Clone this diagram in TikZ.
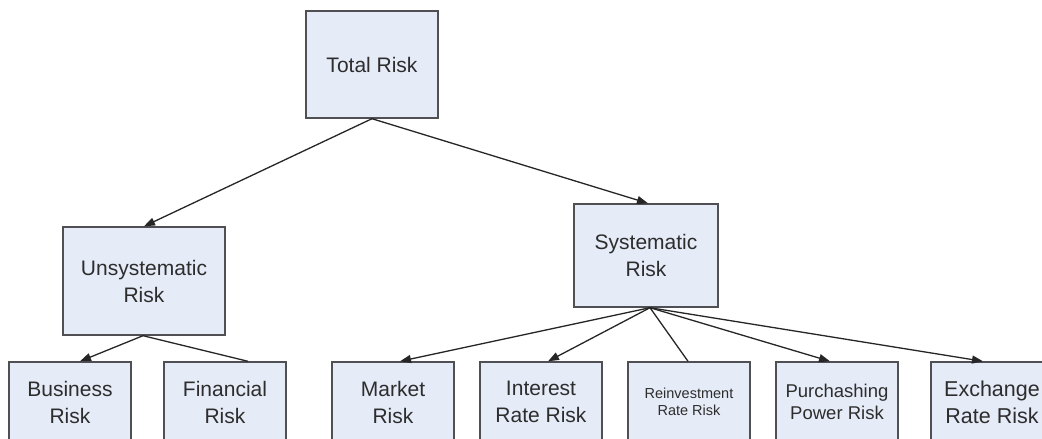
\documentclass[tikz,border=0pt]{standalone}
\usepackage{fontspec}
\setmainfont{Liberation Sans}
\usetikzlibrary{arrows.meta,calc}
\definecolor{boxfill}{RGB}{229,235,247}
\definecolor{boxline}{RGB}{80,80,84}
\definecolor{txt}{RGB}{45,45,45}
\tikzset{
  riskbox/.style={draw=boxline, line width=1.4pt, fill=boxfill, text=txt, align=center, inner sep=2pt,
    font=\fontsize{21}{27}\selectfont},
  toprow/.style={riskbox, minimum width=132pt, minimum height=107pt},
  bottombox/.style={riskbox, minimum width=122pt, minimum height=80pt},
  conn/.style={line width=1.3pt, draw=black!85, -{Triangle[length=11pt,width=8pt]}},
  plain/.style={line width=1.3pt, draw=black!85}
}
\begin{document}
\begin{tikzpicture}[x=1pt,y=-1pt]
\useasboundingbox (0,0) rectangle (1042,439);
\fill[white] (0,0) rectangle (1042,439);
\clip (0,0) rectangle (1042,439);
\node[toprow] (total) at (372,64.5) {Total Risk};
\node[riskbox, minimum width=162pt, minimum height=108pt] (unsys) at (144,281) {Unsystematic\\Risk};
\node[riskbox, minimum width=144pt, minimum height=103pt] (sys) at (646,255.5) {Systematic\\Risk};
\node[bottombox] (biz) at (70,402) {Business\\Risk};
\node[bottombox] (fin) at (225,402) {Financial\\Risk};
\node[bottombox] (mkt) at (393,402) {Market\\Risk};
\node[bottombox] (int) at (541,402) {Interest\\Rate Risk};
\node[bottombox, font=\fontsize{14.5}{17}\selectfont] (rein) at (689,402) {Reinvestment\\Rate Risk};
\node[bottombox, font=\fontsize{18.5}{22}\selectfont] (pur) at (837,402) {Purchashing\\Power Risk};
\node[bottombox, font=\fontsize{21.5}{27}\selectfont] (exc) at (992,402) {Exchange\\Rate Risk};
\draw[conn] (total.south) -- (unsys.north);
\draw[conn] (total.south) -- ($(sys.north)+(2,0)$);
\draw[conn] ($(unsys.south)+(-1,0)$) -- ($(biz.north)+(10,0)$);
\draw[plain] ($(unsys.south)+(-1,0)$) -- ($(fin.north)+(23,0)$);
\draw[conn] ($(sys.south)+(4,0)$) -- ($(mkt.north)+(7,0)$);
\draw[conn] ($(sys.south)+(4,0)$) -- ($(int.north)+(7,0)$);
\draw[plain] ($(sys.south)+(4,0)$) -- ($(rein.north)+(-1,0)$);
\draw[conn] ($(sys.south)+(4,0)$) -- ($(pur.north)+(-7,0)$);
\draw[conn] ($(sys.south)+(4,0)$) -- ($(exc.north)+(-9,0)$);
\end{tikzpicture}
\end{document}
